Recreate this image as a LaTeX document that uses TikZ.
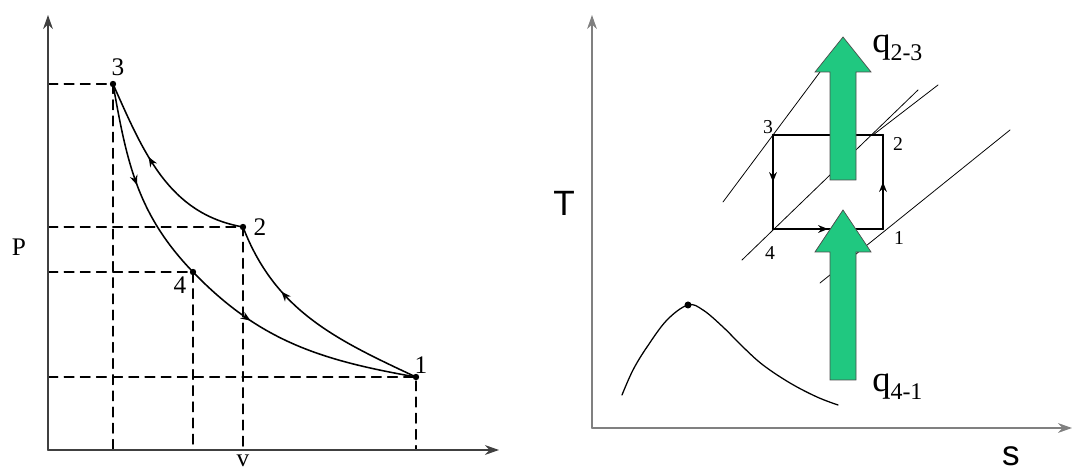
\documentclass[tikz,border=0pt]{standalone}
\usepackage{fontspec}
\setmainfont{Liberation Serif}
\setsansfont{Liberation Sans}
\usetikzlibrary{arrows.meta,decorations.markings}

\begin{document}
\begin{tikzpicture}[
    x=0.025cm, y=0.025cm,
    line cap=round,
    every node/.style={font=\fontsize{18}{20}\selectfont, inner sep=0pt},
    axis/.style={line width=1.2pt, draw=black!75, -{Stealth[length=10pt,width=7pt]}},
    guide/.style={dash pattern=on 7pt off 4.5pt, line width=0.8pt},
    process/.style={line width=1.1pt},
    flowtip/.style={postaction={decorate}, decoration={markings,
        mark=at position #1 with {\arrow{Stealth[length=7pt,width=5.5pt]}}}},
    isobar/.style={line width=0.55pt},
    cycleedge/.style={line width=1.5pt},
    corner/.style={font=\fontsize{14}{16}\selectfont},
]

\definecolor{heat}{RGB}{32,200,128}

\useasboundingbox (0,0) rectangle (1074,473);

% ---------- macro: broad heat-flow arrow ----------
% #1 = centre x, #2 = tail y, #3 = y where the head starts, #4 = tip y
\newcommand{\heatarrow}[4]{%
    \filldraw[fill=heat, draw=black!70, line width=0.5pt, line join=miter]
        (#1-13,#2) -- (#1-13,#3) -- (#1-28,#3) -- (#1,#4)
        -- (#1+28,#3) -- (#1+13,#3) -- (#1+13,#2) -- cycle;
}

% ---------- P-v diagram ----------
\coordinate (o1) at (48,23);
\coordinate (ytip1) at (48,458);
\coordinate (xtip1) at (499,23);
\coordinate (p1) at (416,96);
\coordinate (p2) at (243,246);
\coordinate (p3) at (113,389);
\coordinate (p4) at (193,201);

% dashed read-offs to both axes
\foreach \p in {p1,p2,p3,p4}{
    \draw[guide] (o1 |- \p) -- (\p) -- (o1 -| \p);
}

\draw[axis] (o1) -- (ytip1);
\draw[axis] (o1) -- (xtip1);

% the four processes, 1-2-3-4-1
\draw[process, flowtip=0.68] (p1) to[out=155,in=-69] (p2);
\draw[process, flowtip=0.6] (p2) to[out=170,in=-66] (p3);
\draw[process, flowtip=0.5] (p3) to[out=-80,in=134] (p4);
\draw[process, flowtip=0.3] (p4) to[out=-46,in=170] (p1);

\foreach \p in {p1,p2,p3,p4}{
    \fill (\p) circle (3.2);
}

\node (n1) at (421,108) {1};
\node (n2) at (260,246) {2};
\node (n3) at (118,406) {3};
\node (n4) at (180,188) {4};
\node (lp) at (19,226) {P};
\node (lv) at (243,12) {v};

% ---------- T-s diagram ----------
\coordinate (o2) at (592,45);
\coordinate (ytip2) at (592,458);
\coordinate (xtip2) at (1072,45);
\coordinate (r1) at (883,244);
\coordinate (r2) at (883,338);
\coordinate (r3) at (773,338);
\coordinate (r4) at (773,244);
\coordinate (crit) at (688,168);

\draw[axis, draw=black!50, line width=1pt] (o2) -- (ytip2);
\draw[axis, draw=black!50, line width=1pt] (o2) -- (xtip2);

% constant-pressure lines through the corners
\draw[isobar] ([shift={(-50,-67)}]r3) -- ([shift={(47,63)}]r3);
\draw[isobar] ([shift={(-31,-31)}]r4) -- ([shift={(145,139)}]r4);
\draw[isobar] ([shift={(-63,-54)}]r1) -- ([shift={(127,99)}]r1);
\draw[isobar] ([shift={(-10,0)}]r2) -- ([shift={(55,50)}]r2);

% the cycle
\draw[cycleedge, flowtip=0.5] (r1) -- (r2);
\draw[cycleedge, flowtip=0.5] (r2) -- (r3);
\draw[cycleedge, flowtip=0.5] (r3) -- (r4);
\draw[cycleedge, flowtip=0.5] (r4) -- (r1);

% saturation dome
\draw[line width=0.9pt] plot[smooth, tension=0.6] coordinates {
    (622,78) (633,103) (647,126) (667,153) (crit) (703,163)
    (723,146) (743,126) (763,108) (790,90) (817,76) (838,68)};
\fill (crit) circle (3.5);

\heatarrow{843}{293}{401}{436}
\heatarrow{843}{93}{221}{263}

\node[corner] (m1) at (899,235) {1};
\node[corner] (m2) at (898,329) {2};
\node[corner] (m3) at (768,346) {3};
\node[corner] (m4) at (770,220) {4};

\node[anchor=base west, font=\fontsize{26}{28}\selectfont] (q23) at (872,420)
    {q\raisebox{-5pt}{\fontsize{17}{17}\selectfont 2-3}};
\node[anchor=base west, font=\fontsize{26}{28}\selectfont] (q41) at (872,81)
    {q\raisebox{-5pt}{\fontsize{17}{17}\selectfont 4-1}};

\node[font=\sffamily\fontsize{25}{28}\selectfont] (lt) at (564,270) {T};
\node[font=\sffamily\fontsize{25}{28}\selectfont] (ls) at (1011,17) {s};

\end{tikzpicture}
\end{document}
